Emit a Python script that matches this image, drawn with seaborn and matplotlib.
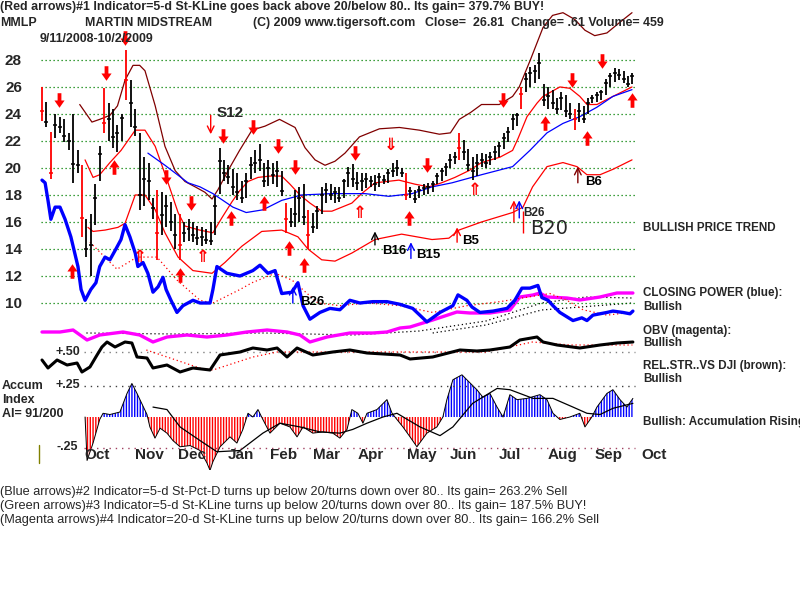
import numpy as np
import matplotlib
matplotlib.use("Agg")
import matplotlib.pyplot as plt
import seaborn as sns
from matplotlib.path import Path
from matplotlib.lines import Line2D

sns.set_theme(style="white")
plt.rcParams["font.family"] = ["Liberation Sans", "DejaVu Sans"]
plt.rcParams["hatch.linewidth"] = 1.0

# ---- price bars, one every 2 trading days (x = trading day index) ----
bar_high = [26.0, 24.9, 22.7, 24.0, 23.8, 23.6, 22.6, 24.0, 21.3, 20.2,
            16.2, 16.6, 18.8, 21.6, 25.9, 24.8, 24.4, 23.2, 24.0, 28.7,
            26.5, 24.4, 22.6, 20.8, 20.4, 17.8, 18.4, 18.2, 18.0, 17.5,
            16.6, 16.6, 16.0, 16.2, 16.0, 15.7, 15.6, 15.5, 16.0, 17.9,
            21.5, 20.6, 20.2, 19.9, 19.6, 19.0, 19.6, 20.8, 21.3, 21.8,
            20.4, 20.6, 20.4, 20.5, 19.8, 17.4, 17.0, 18.4, 18.6, 18.8,
            16.9, 16.7, 17.2, 18.6, 18.9, 18.8, 18.6, 18.6, 19.2, 20.1,
            20.3, 19.7, 19.6, 19.6, 19.4, 19.5, 19.6, 19.5, 19.9, 20.4,
            20.6, 20.0, 19.6, 18.6, 18.4, 18.7, 18.8, 18.9, 19.0, 19.6,
            20.0, 20.4, 21.0, 21.2, 22.6, 22.1, 21.4, 20.8, 21.0, 21.1,
            21.0, 21.2, 21.6, 21.9, 22.6, 23.0, 24.0, 24.1, 26.0, 27.0,
            27.5, 27.6, 28.5, 26.2, 26.0, 25.8, 25.2, 25.6, 25.4, 24.8,
            24.4, 24.8, 24.6, 25.2, 25.4, 25.6, 25.8, 26.6, 27.0, 27.4,
            27.3, 27.2, 26.8, 27.0]
bar_low = [23.5, 23.0, 19.2, 22.2, 22.6, 21.9, 21.3, 18.9, 19.6, 14.9,
           13.4, 12.0, 15.8, 19.0, 22.6, 22.0, 21.5, 21.2, 22.0, 25.0,
           23.0, 22.4, 16.9, 17.2, 17.6, 16.2, 13.2, 15.0, 15.6, 15.3,
           14.0, 13.2, 14.5, 14.6, 14.5, 14.3, 14.2, 14.4, 14.3, 15.0,
           18.1, 19.0, 18.8, 18.0, 17.6, 17.4, 17.8, 19.2, 19.6, 19.8,
           18.6, 18.7, 18.8, 18.6, 17.9, 15.2, 15.6, 15.6, 16.0, 15.8,
           14.0, 15.2, 15.5, 16.6, 17.4, 17.6, 17.4, 17.5, 17.8, 18.6,
           18.6, 18.4, 18.3, 18.5, 18.6, 18.3, 18.6, 18.8, 18.9, 19.3,
           19.4, 19.3, 17.6, 17.8, 17.4, 17.8, 18.0, 18.1, 18.2, 18.8,
           19.0, 19.4, 20.0, 20.3, 20.6, 20.6, 19.8, 19.1, 19.4, 20.1,
           20.0, 20.2, 20.6, 20.8, 21.4, 21.9, 22.8, 23.1, 24.4, 25.6,
           26.0, 26.3, 26.6, 24.6, 24.4, 24.4, 24.0, 24.3, 23.8, 23.6,
           22.8, 23.4, 23.3, 24.0, 24.8, 24.9, 25.0, 25.4, 26.0, 26.4,
           26.5, 26.3, 26.0, 26.2]
bar_close = [24.2, 23.4, 19.6, 23.2, 23.0, 22.4, 22.0, 20.3, 20.2, 16.3,
             14.0, 14.3, 17.8, 21.0, 23.3, 23.6, 22.3, 22.6, 23.7, 26.5,
             24.8, 23.0, 18.0, 19.2, 19.0, 17.0, 15.2, 16.5, 17.2, 16.0,
             15.0, 14.3, 15.2, 15.5, 15.0, 14.8, 14.9, 14.7, 14.6, 17.2,
             20.5, 19.6, 19.3, 18.6, 18.2, 17.8, 19.0, 20.2, 20.4, 20.6,
             19.0, 20.0, 19.5, 19.8, 18.3, 16.2, 16.0, 16.6, 17.8, 16.4,
             15.0, 15.6, 16.8, 18.0, 18.4, 18.0, 18.2, 17.8, 19.0, 19.6,
             19.2, 18.9, 19.0, 19.2, 19.0, 18.8, 19.3, 19.1, 19.6, 19.8,
             20.0, 19.6, 18.0, 18.3, 17.7, 18.4, 18.5, 18.6, 18.8, 19.4,
             19.8, 20.1, 20.6, 20.8, 21.5, 21.2, 20.2, 19.8, 20.4, 20.6,
             20.4, 20.8, 21.2, 21.6, 22.2, 22.7, 23.6, 23.9, 25.5, 26.6,
             27.0, 27.2, 27.8, 25.0, 25.3, 24.8, 24.4, 25.2, 24.2, 24.0,
             23.6, 24.2, 23.6, 24.8, 25.2, 25.4, 25.6, 26.3, 26.8, 27.0,
             26.9, 26.6, 26.2, 26.8]
red_bars = [0, 2, 9, 14, 19, 26, 31, 55, 60, 82, 94, 108, 120]

# ---- bands and moving average (price units) ----
upper_idx = [17, 22.5, 26, 30.6, 34, 37.4, 41, 44, 46.4, 51, 55.4, 60, 64.4, 69, 73.4,
             76.6, 79.3, 83.8, 89, 94.6, 100.5, 107, 114, 118.5, 123, 127.5, 132,
             136.5, 143, 152, 161, 170, 179, 184, 188, 193, 198, 206, 212, 215, 220,
             225.7, 230, 234.7, 240, 244.6, 249, 254.5, 260.4, 265.8]
upper_val = [24.7, 23.4, 23.6, 23.9, 24.6, 26.5, 27.6, 27.6, 27.2, 24.6, 21.6, 19.8,
             19.0, 18.6, 18.2, 17.7, 18.4, 19.8, 21.3, 22.8, 23.1, 23.6, 23.0, 21.5,
             20.6, 20.2, 20.5, 21.1, 22.3, 22.9, 23.0, 22.8, 22.5, 22.6, 23.6, 24.1,
             24.7, 24.7, 25.3, 26.0, 28.0, 30.4, 31.3, 31.5, 31.0, 30.2, 29.8, 30.0,
             30.8, 31.5]
mid_idx = [19.4, 23, 26, 30.6, 35.6, 42, 46.4, 51, 56.8, 61.3, 64.4, 71, 77, 81, 85.6,
           89, 92.8, 97.3, 102.7, 108, 111.7, 116.2, 120.7, 126, 130.6, 139.6, 144,
           150, 160.8, 168, 174.3, 180, 186, 192.3, 198, 206.3, 212, 214.5, 218.5,
           223, 225.7, 233.3, 237.8, 242.3, 245.5, 250, 257.2, 265.8]
mid_val = [20.6, 19.3, 19.5, 20.4, 21.3, 22.8, 22.8, 21.6, 18.9, 16.7, 15.7, 15.4,
           15.2, 16.3, 17.5, 18.3, 19.0, 19.3, 19.4, 19.4, 18.8, 18.0, 17.4, 16.8,
           16.8, 17.4, 18.1, 18.9, 19.1, 18.8, 18.6, 18.9, 19.3, 19.8, 20.4, 20.8,
           21.3, 22.2, 23.8, 24.8, 25.3, 26.0, 25.9, 25.3, 24.7, 24.7, 25.3, 26.0]
low_idx = [20.7, 23, 28.4, 34.2, 37.4, 42, 46.4, 51, 55.4, 61.3, 68, 76.6, 82.4, 90,
           99, 108, 115.3, 119.8, 126, 132, 139.6, 150, 162, 175.7, 183.3, 187.8,
           198, 212, 216.7, 221, 227.5, 234.7, 241, 245.5, 251.4, 257.2, 265.8]
low_val = [15.6, 15.3, 15.4, 15.6, 15.9, 18.0, 18.0, 16.9, 15.2, 13.4, 12.4, 12.2,
           13.0, 14.2, 15.3, 15.4, 14.9, 14.0, 13.2, 13.1, 13.7, 14.7, 15.1, 14.7,
           14.8, 15.4, 16.0, 16.7, 17.1, 18.6, 20.1, 20.4, 20.1, 19.5, 19.5, 19.9,
           20.6]
ma_idx = [47.7, 55.4, 65.8, 71.2, 77, 86, 92, 99.5, 108, 117, 130.6, 145.5, 156.3,
          166.7, 175.7, 184.7, 198, 212, 219.8, 227.5, 234.7, 242.3, 250, 257.2, 265.8]
ma_val = [21.1, 20.2, 18.9, 18.6, 18.1, 17.1, 16.7, 16.9, 17.6, 18.0, 18.1, 18.1,
          17.9, 18.1, 18.6, 18.9, 19.5, 20.1, 21.3, 22.6, 23.3, 23.8, 24.5, 25.3, 25.8]

# ---- closing power (drawn on the price scale) ----
cp_idx = [0, 1.4, 2.7, 4, 5.9, 8.1, 10.4, 13, 16.2, 17.6, 19.4, 22, 24.3, 26, 28.4,
          30.6, 33.3, 35.6, 37.4, 39.6, 42, 43.2, 45.5, 47.7, 50, 52.3, 54.5, 55.9,
          58.1, 60.8, 63.5, 68, 71.2, 75.7, 77, 78.8, 83.3, 89.2, 95, 98.2, 101.8,
          105, 108, 112.6, 115.3, 117.6, 120.7, 125.2, 129.7, 134.2, 138.7, 143.2,
          149, 155.4, 161.3, 167, 173.4, 179.3, 185.1, 187.4, 191.4, 193.7, 197.3,
          203.2, 209.5, 213, 216.2, 219.8, 223.4, 225.2, 228, 230.2, 233.3, 239.2,
          243.2, 245.5, 248.2, 254.5, 257.2, 261.7, 264.9, 266.2]
cp_val = [19.1, 18.9, 17.6, 16.2, 17.1, 17.1, 16.2, 14.9, 12.7, 11.0, 10.2, 11.0,
          11.5, 12.7, 13.4, 13.2, 14.0, 14.7, 15.8, 14.9, 13.7, 12.7, 13.0, 12.2,
          10.8, 11.2, 11.9, 11.0, 10.2, 9.3, 9.8, 10.2, 10.0, 10.0, 11.0, 12.7,
          12.2, 12.0, 12.4, 12.8, 12.2, 12.4, 10.7, 10.8, 11.5, 9.8, 8.8, 9.3, 9.6,
          9.5, 10.2, 10.0, 10.1, 10.1, 9.9, 9.6, 8.6, 9.3, 9.8, 10.6, 10.2, 9.7,
          9.3, 9.4, 9.6, 10.2, 11.1, 11.1, 11.3, 10.4, 10.2, 9.8, 9.3, 8.7, 8.9,
          8.7, 9.1, 9.3, 9.4, 9.3, 9.2, 9.4]
cp_ma_idx = [21.6, 33.8, 42.8, 51.8, 60.8, 71.2, 77, 89.2, 94.6, 105, 112.6, 124.3,
             134.2, 146.4, 161.3, 176, 191.4, 206.3, 221.2, 228.8, 236.5, 243.7,
             254.5, 264.9]
cp_ma_val = [14.5, 12.5, 13.4, 13.4, 11.7, 10.2, 10.0, 11.0, 11.5, 12.2, 11.7, 10.0,
             9.8, 10.0, 9.8, 9.3, 9.8, 10.1, 10.5, 10.7, 10.2, 9.5, 9.1, 9.3]

# ---- OBV (relative units) ----
obv_idx = [0, 8.1, 14, 20.3, 26, 36.5, 44, 50, 56.3, 65.3, 74.3, 83.3, 92.3, 101.4,
           110.4, 116.2, 120.7, 128.4, 138.7, 149, 155.4, 161.3, 165.8, 176, 186.9,
           192.8, 201.8, 210.8, 215.3, 221.2, 224.3, 227.5, 236.5, 242.3, 251.4,
           259, 266.2]
obv_val = [13, 13, 15, 5, 10, 13, 10, 3, 8, 10, 8, 10, 13, 15, 13, 10, 3, 8, 12, 12,
           13, 17, 18, 25, 33, 32, 32, 35, 48, 50, 52, 48, 47, 45, 48, 52, 52]
obv_ma_idx = [20, 60, 100, 140, 170, 200, 225, 245, 266]
obv_ma_val = [12, 11, 12, 10, 14, 24, 42, 48, 47]
obv_ma2_idx = [176, 200, 225, 266]
obv_ma2_val = [12, 20, 35, 42]

# ---- relative strength vs DJI ----
rs_idx = [0, 2.7, 6.8, 11.3, 15.8, 18, 21.6, 24.8, 27, 29.3, 32.9, 37.4, 40.5, 42.8,
          47.3, 50, 56.3, 62.2, 68, 75.7, 80.2, 89.2, 95, 101.4, 105.9, 110.4,
          114.9, 122, 131, 138.7, 146.4, 161.3, 165.8, 176, 188.3, 195.9, 201.8,
          210.8, 215.3, 223, 225.7, 232, 242.3, 251.4, 259, 266.2]
rs_val = [0.42, 0.34, 0.42, 0.37, 0.39, 0.30, 0.35, 0.47, 0.55, 0.60, 0.55, 0.60,
          0.59, 0.45, 0.44, 0.34, 0.37, 0.30, 0.34, 0.32, 0.47, 0.50, 0.54, 0.52,
          0.54, 0.45, 0.54, 0.47, 0.50, 0.52, 0.49, 0.47, 0.43, 0.45, 0.52, 0.51,
          0.52, 0.55, 0.62, 0.65, 0.60, 0.57, 0.54, 0.57, 0.59, 0.60]
rs_ma_idx = [47, 71, 77, 95, 106, 130, 160, 200, 221, 238, 266]
rs_ma_val = [0.52, 0.34, 0.32, 0.45, 0.50, 0.50, 0.50, 0.50, 0.60, 0.57, 0.57]

# ---- accumulation index ----
acc_idx = [19.4, 20.3, 23, 26, 27.5, 30.6, 35.1, 38.3, 40.5, 42.8, 47.3, 48.6, 50.9,
           53.2, 56.3, 59, 62.2, 66.7, 71.2, 74.3, 75.7, 77, 80.2, 84.7, 87.8, 90.5,
           92.8, 95, 97.3, 99.5, 102.7, 107.2, 111.7, 114.9, 117.6, 122, 126.6, 131,
           134.2, 137.4, 139.6, 142.3, 144.6, 146.4, 150.9, 155.4, 157.7, 159.9,
           162.6, 165.8, 168.9, 173.4, 177.9, 180.6, 182.4, 185.1, 189.2, 191.4,
           195.9, 198.6, 201.8, 205, 207.7, 210.8, 214, 218.5, 224.3, 227.5, 230.2,
           233.3, 237.8, 242.3, 244.6, 247.7, 250, 254.5, 257.2, 260.4, 263.5, 266.2]
acc_val = [0.0, -0.35, -0.21, -0.02, 0.03, 0.02, 0.04, 0.19, 0.27, 0.19, 0.02, -0.08,
           -0.17, -0.09, -0.13, -0.19, -0.24, -0.23, -0.27, -0.37, -0.43, -0.36,
           -0.24, -0.16, -0.21, -0.10, 0.03, 0.0, 0.06, -0.02, -0.13, -0.05, -0.08,
           -0.16, -0.08, -0.13, -0.12, -0.13, -0.17, -0.10, 0.06, 0.03, -0.05, 0.03,
           0.06, 0.14, 0.03, -0.02, -0.08, -0.16, -0.24, -0.13, -0.08, 0.0, 0.14,
           0.30, 0.34, 0.30, 0.22, 0.16, 0.19, 0.08, 0.0, 0.18, 0.14, 0.15, 0.18,
           0.14, 0.03, -0.02, 0.0, 0.03, -0.08, 0.0, 0.08, 0.19, 0.22, 0.14, 0.08,
           0.15]
acc_ma_idx = [50, 56.3, 62.2, 71.2, 78.8, 89.2, 99.5, 107.2, 116.2, 125.2, 134.2, 140,
              146.4, 153.6, 159.9, 170.3, 179.3, 185.1, 194, 205, 210.8, 221.2,
              230.2, 239.2, 245.5, 251.4, 257.2, 266.2]
acc_ma_val = [0.08, 0.06, -0.08, -0.19, -0.28, -0.27, -0.13, -0.05, -0.08, -0.12,
              -0.13, -0.10, -0.05, 0.0, 0.03, -0.08, -0.15, -0.08, 0.11, 0.23, 0.22,
              0.15, 0.15, 0.08, 0.03, 0.02, 0.07, 0.11]

# ---- signals ----
sell_idx = [7.7, 28.8, 37.4, 55.9, 67.1, 81.5, 95, 106.3, 114, 141, 173.4, 207.7, 238.7, 252.3]
sell_px = [25.0, 27.0, 29.6, 19.3, 17.4, 22.4, 23.0, 21.6, 20.1, 21.1, 20.2, 25.0, 26.5, 27.9]
buy_idx = [13.5, 32.4, 62.2, 85.1, 100, 111.3, 118, 165.3, 226.6, 245.5, 265.8]
buy_px = [12.4, 20.1, 12.1, 16.3, 17.4, 14.1, 12.8, 16.3, 23.3, 22.2, 25.0]
hup_idx = [44.1, 72.5, 143.2, 195]
hup_px = [13.4, 13.4, 16.7, 18.4]
hdn_idx = [157]
hdn_px = [21.7]
# thin labelled arrows: label, x, from, to, colour
tags = [("B16", 150, 14.3, 15.3, "black"), ("B15", 166.2, 13.3, 14.5, "#0000ff"),
        ("B5", 187, 14.5, 15.6, "#ff0000"), ("B6", 241.4, 18.9, 20.1, "#800000"),
        ("B26", 113, 10.0, 11.2, "#0000ff")]
tag_x = [153.2, 168.5, 189.2, 244.6, 116.2]
tag_y = [13.85, 13.55, 14.6, 18.95, 10.05]

months = ["Oct", "Nov", "Dec", "Jan", "Feb", "Mar", "Apr", "May", "Jun", "Jul", "Aug", "Sep", "Oct"]
month_pos = [19, 42, 61.3, 83.8, 102.7, 122.1, 142.3, 164.4, 183.8, 205.9, 228, 249.1, 269.8]
price_ticks = [10, 12, 14, 16, 18, 20, 22, 24, 26, 28]

W, H = 800, 600
fig = plt.figure(figsize=(8, 6), dpi=100)
fig.patch.set_facecolor("white")


def box(x0, y0, x1, y1):
    return [x0 / W, 1 - y1 / H, (x1 - x0) / W, (y1 - y0) / H]


def ftext(x, y, s, **kw):
    kw.setdefault("va", "center")
    fig.text(x / W, 1 - y / H, s, **kw)


XLIM = (-0.9, 269.4)
ax_acc = fig.add_axes(box(40, 365, 640, 470))
ax_rs = fig.add_axes(box(40, 330, 640, 380))
ax_obv = fig.add_axes(box(40, 285, 640, 345))
ax = fig.add_axes(box(40, 0, 640, 330))
for a in (ax, ax_obv, ax_rs, ax_acc):
    a.set_facecolor("none")
    a.set_xlim(*XLIM)
    for s in a.spines.values():
        s.set_visible(False)
    a.set_xticks([])
    a.set_yticks([])
    a.grid(False)

ax.set_ylim(8.0, 32.44)
ax_obv.set_ylim(0, 60)
ax_rs.set_ylim(0.22, 0.72)
ax_acc.set_ylim(-0.427, 0.419)

dots = (0, (1, 2.2))
# price grid
ax.hlines(price_ticks, -0.5, 267, colors="#008000", linestyles=dots, lw=0.9, zorder=1)
ax.set_yticks(price_ticks)
ax.set_yticklabels([str(t) for t in price_ticks], fontsize=11, fontweight="bold")
ax.tick_params(axis="y", length=0, pad=13)

# bands
sns.lineplot(x=upper_idx, y=upper_val, ax=ax, color="#800000", lw=0.9, estimator=None, clip_on=False)
sns.lineplot(x=mid_idx, y=mid_val, ax=ax, color="#ff0000", lw=0.9, estimator=None)
sns.lineplot(x=low_idx, y=low_val, ax=ax, color="#ff0000", lw=0.9, estimator=None)
sns.lineplot(x=ma_idx, y=ma_val, ax=ax, color="#0000ff", lw=0.9, estimator=None)

# closing power
ax.plot(cp_ma_idx, cp_ma_val, color="#ff0000", ls=dots, lw=0.9)
sns.lineplot(x=cp_idx, y=cp_val, ax=ax, color="#0000ff", lw=2.4, estimator=None)

# price bars
bx = np.arange(len(bar_high)) * 2
bcol = ["#ff0000" if k in red_bars else "black" for k in range(len(bx))]
ax.vlines(bx, bar_low, bar_high, colors=bcol, lw=1.3, zorder=4)
ax.hlines(bar_close, bx - 0.9, bx + 0.9, colors=bcol, lw=1.1, zorder=4)

# arrows
down = Path([(-0.13, 0.5), (0.13, 0.5), (0.13, 0.0), (0.35, 0.0), (0, -0.5),
             (-0.35, 0.0), (-0.13, 0.0), (-0.13, 0.5)],
            [Path.MOVETO] + [Path.LINETO] * 6 + [Path.CLOSEPOLY])
up = Path([(x, -y) for x, y in down.vertices], down.codes)
ax.scatter(sell_idx, sell_px, marker=down, s=110, color="#ff0000", lw=0, zorder=6, clip_on=False)
ax.scatter(buy_idx, buy_px, marker=up, s=110, color="#ff0000", lw=0, zorder=6)
for x, y in zip(hup_idx, hup_px):
    ax.text(x, y, "\u21d1", color="#ff0000", fontsize=12, ha="center", va="center",
            family="DejaVu Sans", fontweight="bold", zorder=6)
for x, y in zip(hdn_idx, hdn_px):
    ax.text(x, y, "\u21d3", color="#ff0000", fontsize=12, ha="center", va="center",
            family="DejaVu Sans", fontweight="bold", zorder=6)
for (lab, x, y0, y1, c), tx, ty in zip(tags, tag_x, tag_y):
    ax.annotate("", xy=(x, y1), xytext=(x, y0),
                arrowprops=dict(arrowstyle="->", color=c, lw=1, shrinkA=0, shrinkB=0))
    ax.text(tx, ty, lab, fontsize=9.5, fontweight="bold", va="center", color="black")
ax.annotate("", xy=(76, 22.5), xytext=(76, 23.9),
            arrowprops=dict(arrowstyle="->", color="#ff0000", lw=1, shrinkA=0, shrinkB=0))
ax.annotate("", xy=(212.6, 17.6), xytext=(212.6, 16.0),
            arrowprops=dict(arrowstyle="->", color="#ff0000", lw=1, shrinkA=0, shrinkB=0))
ax.annotate("", xy=(215, 17.6), xytext=(215, 16.3),
            arrowprops=dict(arrowstyle="->", color="#0000ff", lw=1, shrinkA=0, shrinkB=0))
ax.vlines([216.7], 15.2, 16.8, colors="#ff0000", lw=1)
ax.text(78.8, 24.1, "S12", fontsize=11, fontweight="bold", va="center")
ax.text(216.8, 16.7, "B26", fontsize=8.5, fontweight="bold", va="center")
ax.text(219.8, 15.55, "B20", fontsize=14, va="center", family="DejaVu Sans")

# OBV
ax_obv.plot(obv_ma_idx, obv_ma_val, color="black", ls=dots, lw=0.9)
ax_obv.plot(obv_ma2_idx, obv_ma2_val, color="black", ls=dots, lw=0.9)
sns.lineplot(x=obv_idx, y=obv_val, ax=ax_obv, color="#ff00ff", lw=2.4, estimator=None)

# relative strength
ax_rs.hlines([0.5], 19, 267, colors="#808080", linestyles=(0, (1, 3.5)), lw=1)
ax_rs.plot(rs_ma_idx, rs_ma_val, color="#ff0000", ls=dots, lw=0.9)
sns.lineplot(x=rs_idx, y=rs_val, ax=ax_rs, color="black", lw=2.2, estimator=None)

# accumulation index
av = np.array(acc_val)
ax_acc.fill_between(acc_idx, 0, av, where=av >= 0, interpolate=True, facecolor="none",
                    edgecolor="#0000ff", hatch="||||||", lw=0)
ax_acc.fill_between(acc_idx, 0, av, where=av <= 0, interpolate=True, facecolor="none",
                    edgecolor="#ff0000", hatch="||||||", lw=0)
sns.lineplot(x=acc_idx, y=acc_val, ax=ax_acc, color="black", lw=0.7, estimator=None)
sns.lineplot(x=acc_ma_idx, y=acc_ma_val, ax=ax_acc, color="black", lw=0.9, estimator=None)
ax_acc.hlines([0.25], 19, 267, colors="#404040", linestyles=(0, (1, 3.5)), lw=1)
ax_acc.hlines([-0.25], 19, 267, colors="#a04060", linestyles=(0, (1, 3.5)), lw=1)
for m, p in zip(months, month_pos):
    ax_acc.text(p, -0.306, m, fontsize=11, fontweight="bold", ha="left", va="center")
ax_acc.set_ylim(-0.427, 0.419)
fig.add_artist(Line2D([39 / W, 39 / W], [1 - 445 / H, 1 - 463 / H], color="#808000", lw=1))

# header texts
HF = 8.9
ftext(0, 7, "(Red arrows)#1 Indicator=5-d St-KLine goes back above 20/below 80.. Its gain= 379.7% BUY!",
      fontsize=HF, fontweight="bold")
ftext(0, 23, "MMLP", fontsize=HF, fontweight="bold")
ftext(85, 23, "MARTIN MIDSTREAM", fontsize=HF, fontweight="bold")
ftext(253, 23, "(C) 2009 www.tigersoft.com", fontsize=HF, fontweight="bold")
ftext(425, 23, "Close=  26.81  Change= .61 Volume= 459", fontsize=HF, fontweight="bold")
ftext(40, 39, "9/11/2008-10/2/2009", fontsize=HF, fontweight="bold")

# left panel labels
for x, y, s in [(55, 352, "+.50"), (2, 386, "Accum"), (2, 400, "Index"),
                (2, 414, "AI= 91/200"), (55, 385, "+.25"), (57, 447, "-.25")]:
    ftext(x, y, s, fontsize=9, fontweight="bold")

# right side labels
for y, s in [(228, "BULLISH PRICE TREND"), (293, "CLOSING POWER (blue):"), (307, "Bullish"),
             (331, "OBV (magenta):"), (343, "Bullish"), (366, "REL.STR..VS DJI (brown):"),
             (379, "Bullish"), (422, "Bullish: Accumulation Rising")]:
    ftext(643, y, s, fontsize=8.4, fontweight="bold")

# footer
for y, s in [(492, "(Blue arrows)#2 Indicator=5-d St-Pct-D turns up below 20/turns down over 80.. Its gain= 263.2% Sell"),
             (506, "(Green arrows)#3 Indicator=5-d St-KLine turns up below 20/turns down over 80.. Its gain= 187.5% BUY!"),
             (520, "(Magenta arrows)#4 Indicator=20-d St-KLine turns up below 20/turns down over 80.. Its gain= 166.2% Sell")]:
    ftext(0, y, s, fontsize=9.2)

fig.savefig("out.png", dpi=100, facecolor="white")
